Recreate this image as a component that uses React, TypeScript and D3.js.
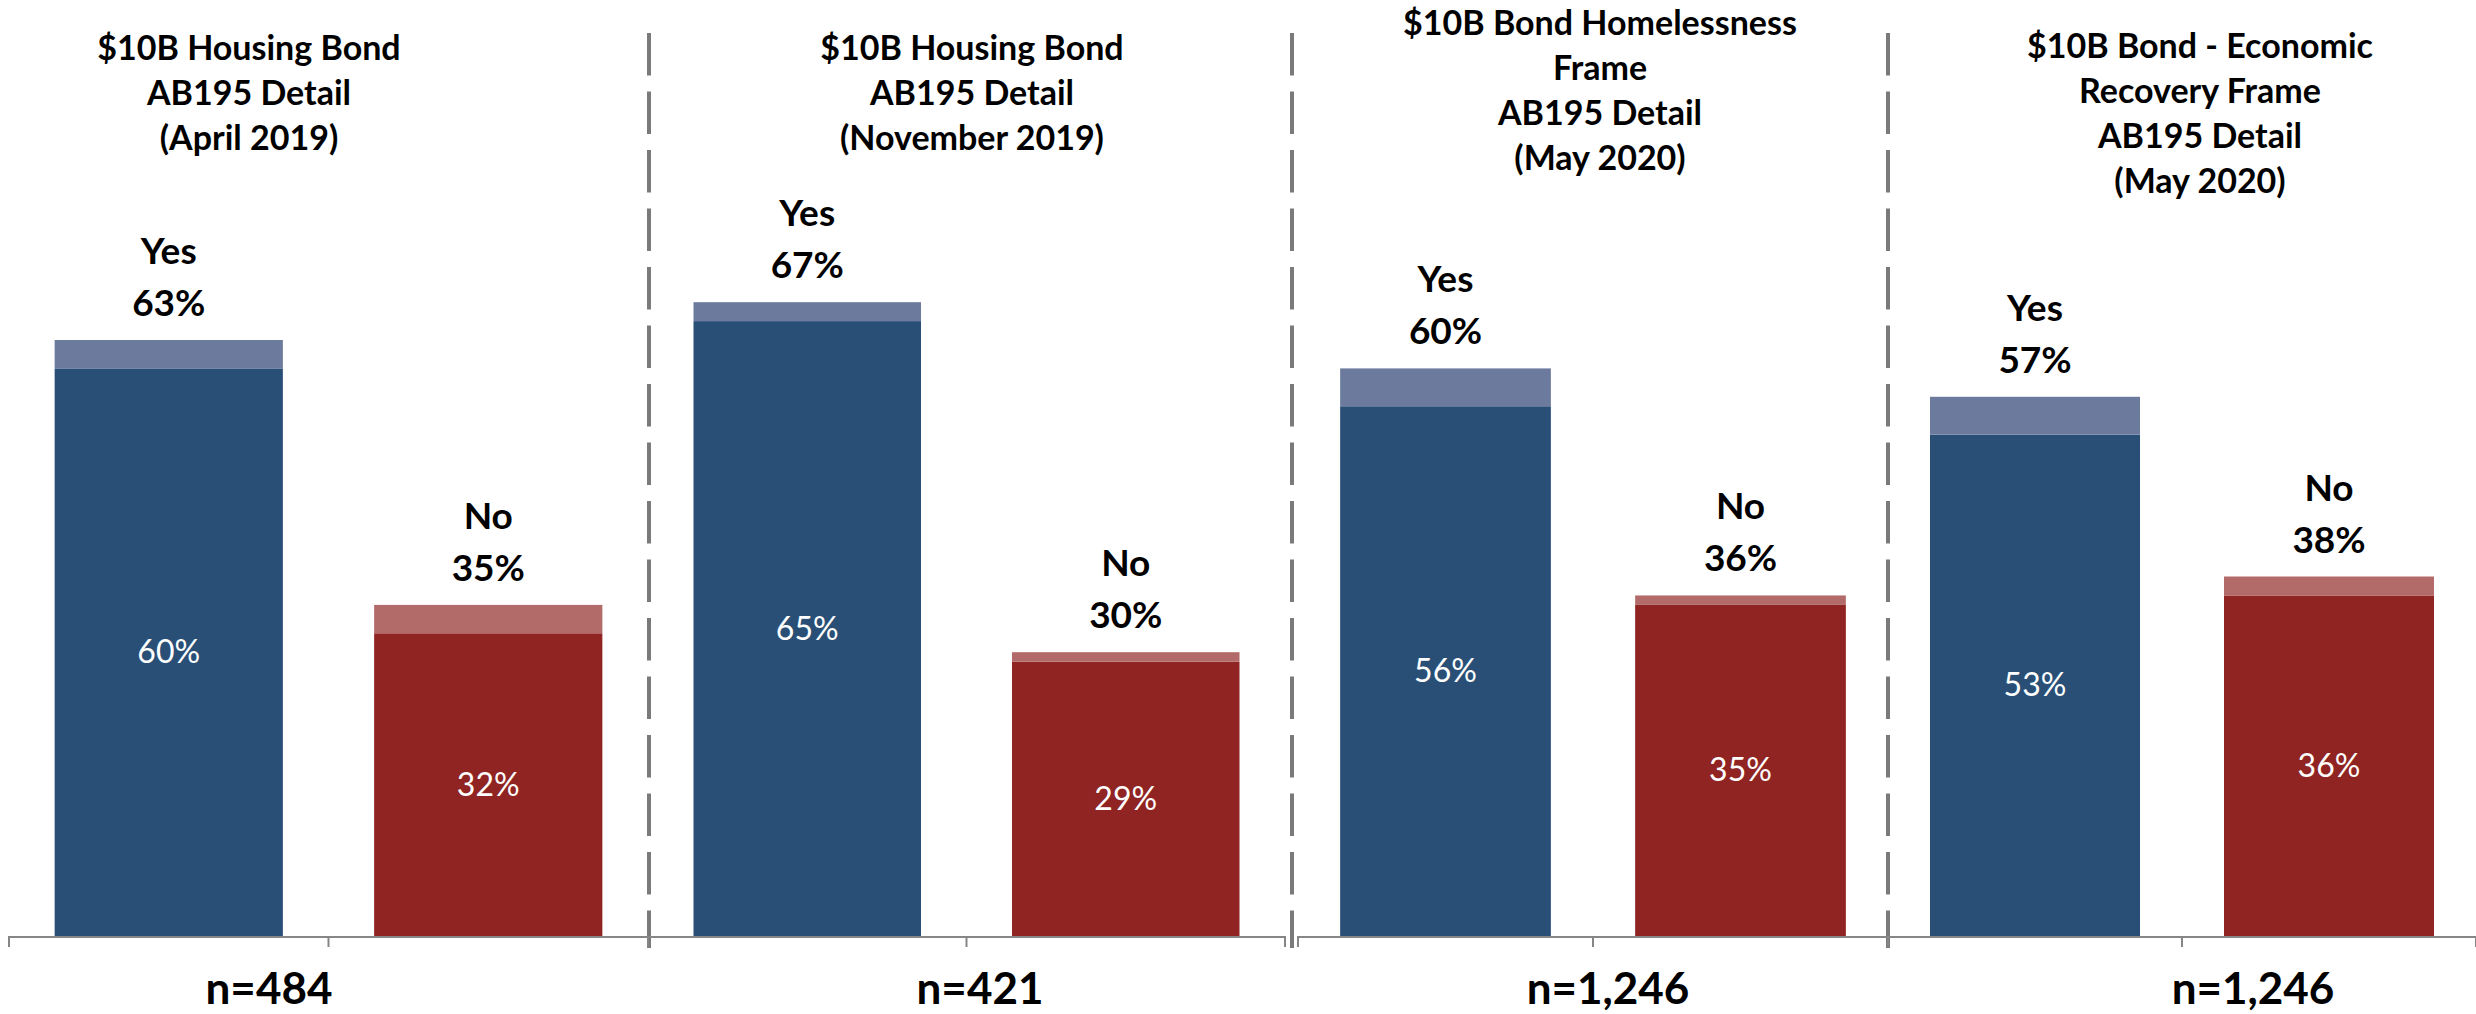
import React from "react";
import * as d3 from "d3";

// ---- data ----
const titles: string[][] = [
  ["$10B Housing Bond", "AB195 Detail", "(April 2019)"],
  ["$10B Housing Bond", "AB195 Detail", "(November 2019)"],
  ["$10B Bond Homelessness", "Frame", "AB195 Detail", "(May 2020)"],
  ["$10B Bond - Economic", "Recovery Frame", "AB195 Detail", "(May 2020)"],
];
const categories = ["Yes", "No"];
const yesTotal = [63, 67, 60, 57];
const yesInner = [60, 65, 56, 53];
const noTotal = [35, 30, 36, 38];
const noInner = [32, 29, 35, 36];
const sampleSizes = ["n=484", "n=421", "n=1,246", "n=1,246"];

// ---- layout ----
const W = 2476;
const H = 1014;
const BASE = 936;
const PX_PER_PCT = 9.46;
const panelExtents: [number, number][] = [
  [9, 648],
  [648, 1285],
  [1298, 1888],
  [1888, 2476],
];
const titleCenters = [249, 972, 1600, 2200];
const titleTop = [60, 60, 35, 58];
const nCenters = [269, 980, 1608, 2253];
const dividers = [649, 1292, 1888];

const COLORS = {
  Yes: { dark: "#294F77", light: "#6C7B9D" },
  No: { dark: "#8F2422", light: "#B36B69" },
};
const AXIS = "#868686";
const DIV = "#7A7A7A";
const FONT = "Lato, 'Noto Sans', sans-serif";

export default function App() {
  const y = d3.scaleLinear().domain([0, 100]).range([BASE, BASE - 100 * PX_PER_PCT]);

  return (
    <svg
      width={W}
      height={H}
      viewBox={`0 0 ${W} ${H}`}
      style={{ position: "absolute", left: 0, top: 0, display: "block", background: "#fff" }}
      fontFamily={FONT}
    >
      <rect x={0} y={0} width={W} height={H} fill="#fff" />
      {/* dividers */}
      {dividers.map((dx, i) => (
        <line
          key={"d" + i}
          x1={dx}
          x2={dx}
          y1={33}
          y2={948}
          stroke={DIV}
          strokeWidth={4}
          strokeDasharray="42.5 16"
        />
      ))}
      {panelExtents.map(([x0, x1], p) => {
        const x = d3
          .scaleBand<string>()
          .domain(categories)
          .range([x0, x1])
          .paddingInner(0.2857)
          .paddingOuter(0.14285);
        const totals = [yesTotal[p], noTotal[p]];
        const inners = [yesInner[p], noInner[p]];
        const step = (x1 - x0) / categories.length;
        return (
          <g key={"p" + p}>
            {/* bars */}
            {categories.map((c, i) => {
              const bx = x(c)!;
              const bw = x.bandwidth();
              const col = COLORS[c as "Yes" | "No"];
              const yt = y(totals[i]);
              const yi = y(inners[i]);
              const cx = bx + bw / 2;
              return (
                <g key={c}>
                  <rect x={bx} y={yi} width={bw} height={y(0) - yi} fill={col.dark} />
                  <rect x={bx} y={yt} width={bw} height={yi - yt} fill={col.light} />
                  <text
                    x={cx}
                    y={(yi + y(0)) / 2 + 11}
                    textAnchor="middle"
                    fill="#fff"
                    fontSize={32}
                  >
                    {inners[i]}%
                  </text>
                  <text x={cx} y={yt - 76} textAnchor="middle" fill="#000" fontSize={37} fontWeight={700}>
                    {c}
                  </text>
                  <text x={cx} y={yt - 24} textAnchor="middle" fill="#000" fontSize={37} fontWeight={700}>
                    {totals[i]}%
                  </text>
                </g>
              );
            })}
            {/* axis */}
            <line x1={x0} x2={x1} y1={BASE + 1} y2={BASE + 1} stroke={AXIS} strokeWidth={2} />
            {d3.range(categories.length + 1).map((k) => (
              <line
                key={"t" + k}
                x1={x0 + k * step}
                x2={x0 + k * step}
                y1={BASE}
                y2={BASE + 11}
                stroke={AXIS}
                strokeWidth={2}
              />
            ))}
            {/* title */}
            <text textAnchor="middle" fontSize={34} fontWeight={700} fill="#000">
              {titles[p].map((line, li) => (
                <tspan key={li} x={titleCenters[p]} y={titleTop[p] + li * 45}>
                  {line}
                </tspan>
              ))}
            </text>
            {/* sample size */}
            <text x={nCenters[p]} y={1004} textAnchor="middle" fontSize={44} fontWeight={700} fill="#000">
              {sampleSizes[p]}
            </text>
          </g>
        );
      })}
    </svg>
  );
}
